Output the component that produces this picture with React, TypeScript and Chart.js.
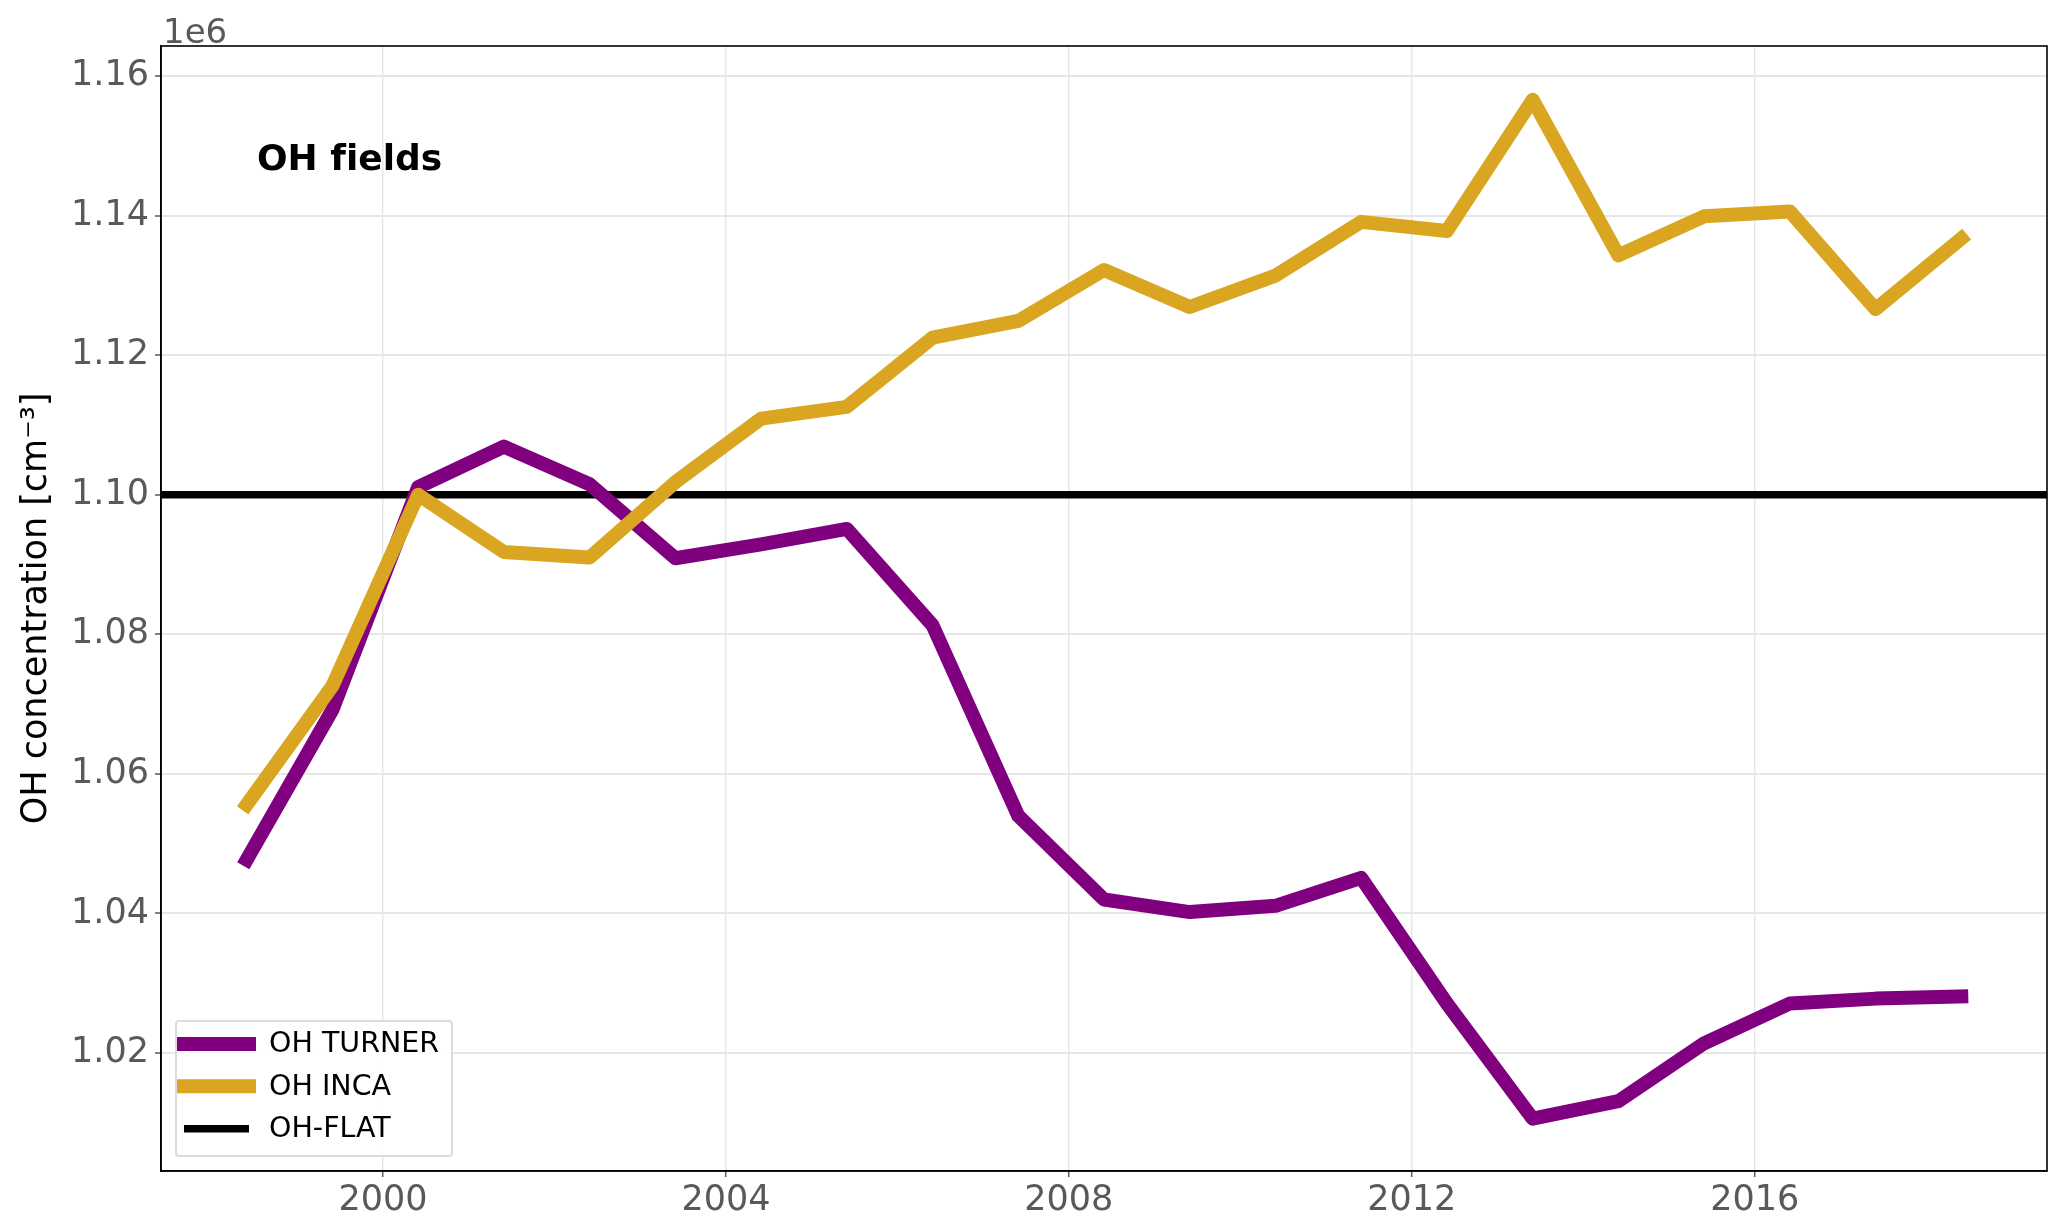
import React, { useEffect, useRef } from 'react';
import { Chart, registerables } from 'chart.js';

Chart.register(...registerables);

// ---------- data ----------
const X_DATES = [
  1998.41, 1999.41, 2000.41, 2001.41, 2002.41, 2003.41, 2004.41, 2005.41, 2006.41, 2007.41,
  2008.41, 2009.41, 2010.41, 2011.41, 2012.41, 2013.41, 2014.41, 2015.41, 2016.41, 2017.41, 2018.41,
];
const OH_TURNER = [
  1.0477e6, 1.0692e6, 1.1011e6, 1.1069e6, 1.1015e6, 1.0909e6, 1.0929e6, 1.0951e6, 1.0813e6, 1.054e6,
  1.042e6, 1.0402e6, 1.0411e6, 1.0451e6, 1.0271e6, 1.0106e6, 1.0131e6, 1.0214e6, 1.0271e6, 1.0278e6, 1.0281e6,
];
const OH_INCA = [
  1.0556e6, 1.0726e6, 1.1e6, 1.0918e6, 1.091e6, 1.1018e6, 1.1109e6, 1.1126e6, 1.1225e6, 1.1249e6,
  1.1322e6, 1.1269e6, 1.1314e6, 1.1391e6, 1.1378e6, 1.1566e6, 1.1343e6, 1.1399e6, 1.1406e6, 1.1266e6, 1.1367e6,
];
const OH_FLAT_VALUE = 1.1e6;
const SERIES_LABELS = ['OH TURNER', 'OH INCA', 'OH-FLAT'];
const X_TICKS = [2000, 2004, 2008, 2012, 2016];
const Y_TICKS = [1.02e6, 1.04e6, 1.06e6, 1.08e6, 1.1e6, 1.12e6, 1.14e6, 1.16e6];
const X_MIN = 1997.41;
const X_MAX = 2019.41;
const Y_MIN = 1.0031e6;
const Y_MAX = 1.1643e6;
// zero-width non-joiner keeps "f" and "i" as separate glyphs (no ligature)
const ANNOTATION = 'OH f\u200Cields';

const FONT = '"DejaVu Sans", sans-serif';
const TICK_COLOR = '#595959';

const decorPlugin = {
  id: 'decor',
  afterDraw(chart: any) {
    const { ctx, chartArea: a } = chart;
    ctx.save();
    // spines
    ctx.strokeStyle = '#000';
    ctx.lineWidth = 1.6;
    ctx.strokeRect(a.left, a.top, a.right - a.left, a.bottom - a.top);

    // offset text
    ctx.fillStyle = TICK_COLOR;
    ctx.font = `34px ${FONT}`;
    ctx.textAlign = 'left';
    ctx.textBaseline = 'alphabetic';
    ctx.fillText('1e6', a.left + 2, a.top - 3);

    // annotation
    ctx.fillStyle = '#000';
    ctx.font = `bold 36px ${FONT}`;
    ctx.fillText(ANNOTATION, a.left + 96, a.top + 124);

    // legend
    const bx = a.left + 15;
    const by = a.bottom - 150;
    const bw = 276;
    const bh = 135;
    ctx.fillStyle = 'rgba(255,255,255,0.85)';
    ctx.strokeStyle = '#dcdcdc';
    ctx.lineWidth = 2;
    ctx.beginPath();
    if (ctx.roundRect) ctx.roundRect(bx, by, bw, bh, 3);
    else ctx.rect(bx, by, bw, bh);
    ctx.fill();
    ctx.stroke();

    const rows = [a.bottom - 127, a.bottom - 84.7, a.bottom - 42.2];
    chart.data.datasets.forEach((ds: any, i: number) => {
      const y = rows[i];
      ctx.beginPath();
      ctx.strokeStyle = ds.borderColor;
      ctx.lineWidth = ds.borderWidth;
      ctx.lineCap = ds.borderCapStyle;
      ctx.moveTo(a.left + 23, y);
      ctx.lineTo(a.left + 88, y);
      ctx.stroke();
      ctx.fillStyle = '#000';
      ctx.font = `28.5px ${FONT}`;
      ctx.textBaseline = 'middle';
      ctx.textAlign = 'left';
      ctx.fillText(ds.label, a.left + 108, y + 1);
    });
    ctx.restore();
  },
};

export default function App() {
  const ref = useRef<HTMLCanvasElement | null>(null);

  useEffect(() => {
    document.body.style.margin = '0';
    if (!ref.current) return;
    const chart = new Chart(ref.current, {
      type: 'line',
      data: {
        datasets: [
          {
            label: SERIES_LABELS[0],
            data: X_DATES.map((x, i) => ({ x, y: OH_TURNER[i] })),
            borderColor: '#800080',
            backgroundColor: '#800080',
            borderWidth: 14,
            borderCapStyle: 'square',
            borderJoinStyle: 'round',
            pointRadius: 0,
            tension: 0,
            fill: false,
            order: 1,
          },
          {
            label: SERIES_LABELS[1],
            data: X_DATES.map((x, i) => ({ x, y: OH_INCA[i] })),
            borderColor: '#DAA520',
            backgroundColor: '#DAA520',
            borderWidth: 14,
            borderCapStyle: 'square',
            borderJoinStyle: 'round',
            pointRadius: 0,
            tension: 0,
            fill: false,
            order: 0,
          },
          {
            label: SERIES_LABELS[2],
            data: [
              { x: X_MIN, y: OH_FLAT_VALUE },
              { x: X_MAX, y: OH_FLAT_VALUE },
            ],
            borderColor: '#000000',
            backgroundColor: '#000000',
            borderWidth: 7.5,
            borderCapStyle: 'butt',
            pointRadius: 0,
            tension: 0,
            fill: false,
            order: 2,
          },
        ],
      },
      options: {
        animation: false,
        responsive: false,
        parsing: true,
        layout: { padding: { top: 46, right: 20, left: 0, bottom: 0 } },
        plugins: {
          legend: { display: false },
          tooltip: { enabled: false },
          title: { display: false },
        },
        scales: {
          x: {
            type: 'linear',
            min: X_MIN,
            max: X_MAX,
            afterBuildTicks: (s: any) => {
              s.ticks = X_TICKS.map((v) => ({ value: v }));
            },
            afterFit: (s: any) => {
              s.height = 56;
            },
            ticks: {
              callback: (v: any) => String(v),
              font: { family: FONT, size: 35 },
              color: TICK_COLOR,
              padding: 3,
              maxRotation: 0,
              autoSkip: false,
            },
            grid: {
              color: '#e6e6e6',
              lineWidth: 1.4,
              tickLength: 6,
              tickColor: TICK_COLOR,
              tickWidth: 1.5,
            },
            border: { display: true, color: '#000', width: 1.6 },
          },
          y: {
            type: 'linear',
            min: Y_MIN,
            max: Y_MAX,
            afterBuildTicks: (s: any) => {
              s.ticks = Y_TICKS.map((v) => ({ value: v }));
            },
            afterFit: (s: any) => {
              s.width = 161;
            },
            ticks: {
              callback: (v: any) => (Number(v) / 1e6).toFixed(2),
              font: { family: FONT, size: 35 },
              color: TICK_COLOR,
              padding: 6,
              autoSkip: false,
            },
            grid: {
              color: '#e6e6e6',
              lineWidth: 2,
              tickLength: 6,
              tickColor: TICK_COLOR,
              tickWidth: 1.5,
            },
            border: { display: true, color: '#000', width: 1.6 },
            title: {
              display: true,
              text: 'OH concentration [cm⁻³]',
              font: { family: FONT, size: 35 },
              color: '#000',
              padding: { top: 16, bottom: 0 },
            },
          },
        },
      } as any,
      plugins: [decorPlugin],
    });
    return () => chart.destroy();
  }, []);

  return (
    <div style={{ position: 'absolute', left: 0, top: 0, width: 2067, height: 1227, background: '#fff' }}>
      <canvas ref={ref} width={2067} height={1227} style={{ width: 2067, height: 1227, display: 'block' }} />
    </div>
  );
}
